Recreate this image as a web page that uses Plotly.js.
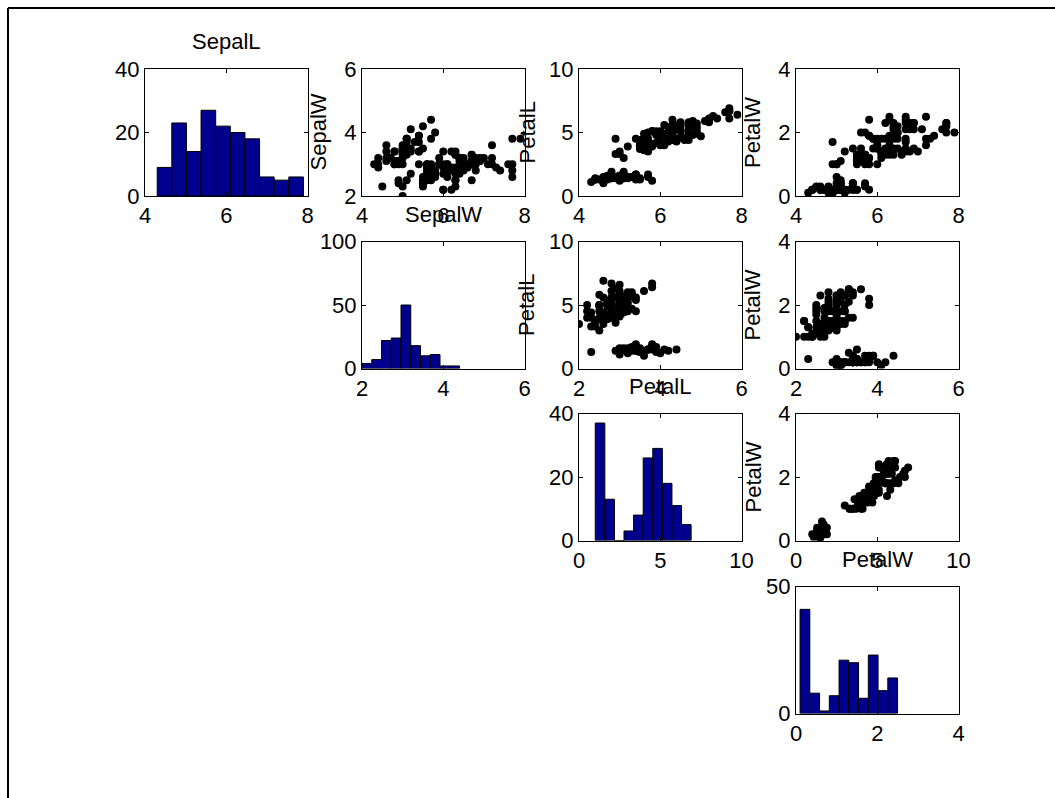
<!DOCTYPE html>
<html>
<head>
<meta charset="utf-8">
<script src="https://cdn.plot.ly/plotly-3.0.1.min.js"></script>
<style>
  html, body { margin: 0; padding: 0; background: #fff; }
  #chart { width: 1055px; height: 798px; }
</style>
</head>
<body>
<div id="chart"></div>
<script>
// ---- Iris measurements (150 samples) ----
const SepalL = [5.1,4.9,4.7,4.6,5.0,5.4,4.6,5.0,4.4,4.9,5.4,4.8,4.8,4.3,5.8,5.7,5.4,5.1,5.7,5.1,
5.4,5.1,4.6,5.1,4.8,5.0,5.0,5.2,5.2,4.7,4.8,5.4,5.2,5.5,4.9,5.0,5.5,4.9,4.4,5.1,
5.0,4.5,4.4,5.0,5.1,4.8,5.1,4.6,5.3,5.0,7.0,6.4,6.9,5.5,6.5,5.7,6.3,4.9,6.6,5.2,
5.0,5.9,6.0,6.1,5.6,6.7,5.6,5.8,6.2,5.6,5.9,6.1,6.3,6.1,6.4,6.6,6.8,6.7,6.0,5.7,
5.5,5.5,5.8,6.0,5.4,6.0,6.7,6.3,5.6,5.5,5.5,6.1,5.8,5.0,5.6,5.7,5.7,6.2,5.1,5.7,
6.3,5.8,7.1,6.3,6.5,7.6,4.9,7.3,6.7,7.2,6.5,6.4,6.8,5.7,5.8,6.4,6.5,7.7,7.7,6.0,
6.9,5.6,7.7,6.3,6.7,7.2,6.2,6.1,6.4,7.2,7.4,7.9,6.4,6.3,6.1,7.7,6.3,6.4,6.0,6.9,
6.7,6.9,5.8,6.8,6.7,6.7,6.3,6.5,6.2,5.9];
const SepalW = [3.5,3.0,3.2,3.1,3.6,3.9,3.4,3.4,2.9,3.1,3.7,3.4,3.0,3.0,4.0,4.4,3.9,3.5,3.8,3.8,
3.4,3.7,3.6,3.3,3.4,3.0,3.4,3.5,3.4,3.2,3.1,3.4,4.1,4.2,3.1,3.2,3.5,3.1,3.0,3.4,
3.5,2.3,3.2,3.5,3.8,3.0,3.8,3.2,3.7,3.3,3.2,3.2,3.1,2.3,2.8,2.8,3.3,2.4,2.9,2.7,
2.0,3.0,2.2,2.9,2.9,3.1,3.0,2.7,2.2,2.5,3.2,2.8,2.5,2.8,2.9,3.0,2.8,3.0,2.9,2.6,
2.4,2.4,2.7,2.7,3.0,3.4,3.1,2.3,3.0,2.5,2.6,3.0,2.6,2.3,2.7,3.0,2.9,2.9,2.5,2.8,
3.3,2.7,3.0,2.9,3.0,3.0,2.5,2.9,2.5,3.6,3.2,2.7,3.0,2.5,2.8,3.2,3.0,3.8,2.6,2.2,
3.2,2.8,2.8,2.7,3.3,3.2,2.8,3.0,2.8,3.0,2.8,3.8,2.8,2.8,2.6,3.0,3.4,3.1,3.0,3.1,
3.1,3.1,2.7,3.2,3.3,3.0,2.5,3.0,3.4,3.0];
const PetalL = [1.4,1.4,1.3,1.5,1.4,1.7,1.4,1.5,1.4,1.5,1.5,1.6,1.4,1.1,1.2,1.5,1.3,1.4,1.7,1.5,
1.7,1.5,1.0,1.7,1.9,1.6,1.6,1.5,1.4,1.6,1.6,1.5,1.5,1.4,1.5,1.2,1.3,1.5,1.3,1.5,
1.3,1.3,1.3,1.6,1.9,1.4,1.6,1.4,1.5,1.4,4.7,4.5,4.9,4.0,4.6,4.5,4.7,3.3,4.6,3.9,
3.5,4.2,4.0,4.7,3.6,4.4,4.5,4.1,4.5,3.9,4.8,4.0,4.9,4.7,4.3,4.4,4.8,5.0,4.5,3.5,
3.8,3.7,3.9,5.1,4.5,4.5,4.7,4.4,4.1,4.0,4.4,4.6,4.0,3.3,4.2,4.2,4.2,4.3,3.0,4.1,
6.0,5.1,5.9,5.6,5.8,6.6,4.5,6.3,5.8,6.1,5.1,5.3,5.5,5.0,5.1,5.3,5.5,6.7,6.9,5.0,
5.7,4.9,6.7,4.9,5.7,6.0,4.8,4.9,5.6,5.8,6.1,6.4,5.6,5.1,5.6,6.1,5.6,5.5,4.8,5.4,
5.6,5.1,5.1,5.9,5.7,5.2,5.0,5.2,5.4,5.1];
const PetalW = [0.2,0.2,0.2,0.2,0.2,0.4,0.3,0.2,0.2,0.1,0.2,0.2,0.1,0.1,0.2,0.4,0.4,0.3,0.3,0.3,
0.2,0.4,0.2,0.5,0.2,0.2,0.4,0.2,0.2,0.2,0.2,0.4,0.1,0.2,0.1,0.2,0.2,0.1,0.2,0.2,
0.3,0.3,0.2,0.6,0.4,0.3,0.2,0.2,0.2,0.2,1.4,1.5,1.5,1.3,1.5,1.3,1.6,1.0,1.3,1.4,
1.0,1.5,1.0,1.4,1.3,1.4,1.5,1.0,1.5,1.1,1.8,1.3,1.5,1.2,1.3,1.4,1.4,1.7,1.5,1.0,
1.1,1.0,1.2,1.6,1.5,1.6,1.5,1.3,1.3,1.3,1.2,1.4,1.2,1.0,1.3,1.2,1.3,1.3,1.1,1.3,
2.5,1.9,2.1,1.8,2.2,2.1,1.7,1.8,1.8,2.5,2.0,1.9,2.1,2.0,2.4,2.3,1.8,2.2,2.3,1.5,
2.3,2.0,2.0,1.8,2.1,1.8,1.8,1.8,2.1,1.6,1.9,2.0,2.2,1.5,1.4,2.3,2.4,1.8,1.8,2.1,
2.4,2.3,1.9,2.3,2.5,2.3,1.9,2.0,2.3,1.8];

// ---- Histogram bins (centers) and counts ----
const histSepalLCenters = [4.48,4.84,5.20,5.56,5.92,6.28,6.64,7.00,7.36,7.72];
const histSepalLCounts  = [9,23,14,27,22,20,18,6,5,6];
const histSepalWCenters = [2.12,2.36,2.60,2.84,3.08,3.32,3.56,3.80,4.04,4.28];
const histSepalWCounts  = [4,7,22,24,50,18,10,11,2,2];
const histPetalLCenters = [1.295,1.885,2.475,3.065,3.655,4.245,4.835,5.425,6.015,6.605];
const histPetalLCounts  = [37,13,0,3,8,26,29,18,11,5];
const histPetalWCenters = [0.22,0.46,0.70,0.94,1.18,1.42,1.66,1.90,2.14,2.38];
const histPetalWCounts  = [41,8,1,7,21,20,6,23,9,14];
const binWidths = {SepalL: 0.36, SepalW: 0.24, PetalL: 0.59, PetalW: 0.24};

const varNames = ['SepalL','SepalW','PetalL','PetalW'];

// ---- Layout geometry (pixels) ----
const W = 1055, H = 798;
const colLeft = [145, 362, 579, 796], colW = 162.5;
const rowTop = [69, 241.5, 413.5, 586.5], rowH = 127;
const px = v => v / W;
const py = v => 1 - v / H;

const FONT = 'Liberation Sans, Arial, Helvetica, sans-serif';
const FS = 22;
const barColor = '#00008F';

const traces = [];
const layout = {
  width: W, height: H,
  margin: {l: 0, r: 0, t: 0, b: 0},
  paper_bgcolor: '#ffffff', plot_bgcolor: '#ffffff',
  showlegend: false,
  bargap: 0,
  font: {family: FONT, size: FS, color: '#000'},
  annotations: [], shapes: []
};

function axisCommon(range, tickvals) {
  return {
    range: range, tickvals: tickvals, ticktext: tickvals.map(String),
    showline: true, linecolor: '#000', linewidth: 1, mirror: 'ticks',
    ticks: 'inside', ticklen: 4, tickcolor: '#000', tickwidth: 1,
    showgrid: false, zeroline: false, fixedrange: true,
    tickfont: {family: FONT, size: FS, color: '#000'}
  };
}

let axIdx = 0;
function addAxes(r, c, xr, xt, yr, yt) {
  axIdx += 1;
  const sx = axIdx === 1 ? '' : String(axIdx);
  const xa = axisCommon(xr, xt);
  xa.domain = [px(colLeft[c]), px(colLeft[c] + colW)];
  xa.anchor = 'y' + sx;
  const ya = axisCommon(yr, yt);
  ya.domain = [py(rowTop[r] + rowH), py(rowTop[r])];
  ya.anchor = 'x' + sx;
  layout['xaxis' + sx] = xa;
  layout['yaxis' + sx] = ya;
  return {x: 'x' + sx, y: 'y' + sx};
}

const ranges = {
  SepalL: {r: [4, 8], t: [4, 6, 8]},
  SepalW: {r: [2, 6], t: [2, 4, 6]},
  PetalL: {r: [0, 10], t: [0, 5, 10]},
  PetalW: {r: [0, 4], t: [0, 2, 4]}
};
const histY = {
  SepalL: {r: [0, 40], t: [0, 20, 40]},
  SepalW: {r: [0, 100], t: [0, 50, 100]},
  PetalL: {r: [0, 40], t: [0, 20, 40]},
  PetalW: {r: [0, 50], t: [0, 50]}
};
const dataOf = {SepalL, SepalW, PetalL, PetalW};
const hist = {
  SepalL: [histSepalLCenters, histSepalLCounts],
  SepalW: [histSepalWCenters, histSepalWCounts],
  PetalL: [histPetalLCenters, histPetalLCounts],
  PetalW: [histPetalWCenters, histPetalWCounts]
};
const ylabelX = {SepalL: 318, SepalW: 318, PetalL: 527, PetalW: 752.5};

for (let r = 0; r < 4; r++) {
  for (let c = r; c < 4; c++) {
    const vx = varNames[r], vy = varNames[c];
    if (r === c) {
      const a = addAxes(r, c, ranges[vx].r, ranges[vx].t, histY[vx].r, histY[vx].t);
      traces.push({
        type: 'bar', x: hist[vx][0], y: hist[vx][1],
        width: hist[vx][0].map(() => binWidths[vx]),
        marker: {color: barColor, line: {color: '#000', width: 1}},
        xaxis: a.x, yaxis: a.y, hoverinfo: 'x+y'
      });
      layout.annotations.push({
        text: vx, xref: 'paper', yref: 'paper',
        x: px(colLeft[c] + colW / 2), y: py(rowTop[r] - 27),
        xanchor: 'center', yanchor: 'middle', showarrow: false,
        font: {family: FONT, size: FS, color: '#000'}
      });
    } else {
      const a = addAxes(r, c, ranges[vx].r, ranges[vx].t, ranges[vy].r, ranges[vy].t);
      traces.push({
        type: 'scatter', mode: 'markers', x: dataOf[vx], y: dataOf[vy],
        marker: {color: '#000', size: 8, line: {width: 0}},
        xaxis: a.x, yaxis: a.y, hoverinfo: 'x+y'
      });
      layout.annotations.push({
        text: vy, xref: 'paper', yref: 'paper', textangle: -90,
        x: px(ylabelX[vy]), y: py(rowTop[r] + rowH / 2),
        xanchor: 'center', yanchor: 'middle', showarrow: false,
        font: {family: FONT, size: FS, color: '#000'}
      });
    }
  }
}

// frame lines (top and left)
layout.shapes.push({type: 'line', xref: 'paper', yref: 'paper',
  x0: px(8), y0: py(8), x1: 1, y1: py(8), line: {color: '#000', width: 2}});
layout.shapes.push({type: 'line', xref: 'paper', yref: 'paper',
  x0: px(8), y0: py(8), x1: px(8), y1: 0, line: {color: '#000', width: 2}});

Plotly.newPlot('chart', traces, layout, {displayModeBar: false, staticPlot: true});
</script>
</body>
</html>
